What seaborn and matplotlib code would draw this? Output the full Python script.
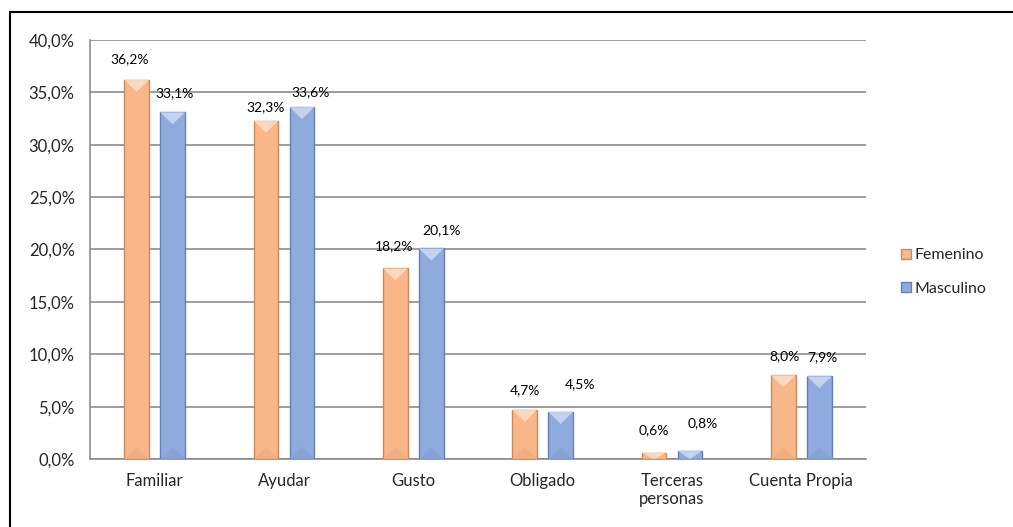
import pandas as pd
import matplotlib
matplotlib.use('Agg')
import matplotlib.pyplot as plt
import matplotlib.ticker as mticker
from matplotlib.patches import Patch, Polygon, Rectangle
import seaborn as sns

# Chart data
motivos = ['Familiar', 'Ayudar', 'Gusto', 'Obligado', 'Terceras\npersonas', 'Cuenta Propia']
femenino = [36.2, 32.3, 18.2, 4.7, 0.6, 8.0]
masculino = [33.1, 33.6, 20.1, 4.5, 0.8, 7.9]
sexos = ['Femenino', 'Masculino']

df = pd.DataFrame({
    'Motivo': motivos * 2,
    'Porcentaje': femenino + masculino,
    'Sexo': ['Femenino'] * len(motivos) + ['Masculino'] * len(motivos),
})

# Styles
fill = {'Femenino': '#F9B689', 'Masculino': '#8FAADC'}
edge = {'Femenino': '#C98A5C', 'Masculino': '#6580B4'}
light = {'Femenino': '#FDDDC2', 'Masculino': '#C8D7F3'}
dark = {'Femenino': '#E9A171', 'Masculino': '#7D98CC'}
# label offsets in points (dx, dy) from bar top centre, per hue
label_off = {
    'Femenino': [(-5, 15), (0, 10), (-1, 16), (0, 14), (0, 16), (1, 14)],
    'Masculino': [(1, 14), (6, 11), (7, 13), (14, 20), (9, 20), (2, 14)],
}

sns.set_style('white')
plt.rcParams['font.family'] = ['Lato', 'DejaVu Sans']

fig = plt.figure(figsize=(10.13, 5.27), dpi=100)
ax = fig.add_axes([90 / 1013, 1 - 459 / 527, 776 / 1013, 419 / 527])

sns.barplot(data=df, x='Motivo', y='Porcentaje', hue='Sexo', hue_order=sexos,
            palette=fill, width=0.557, gap=0.31, legend=False, ax=ax,
            saturation=1, zorder=3)

for sexo, cont in zip(sexos, ax.containers):
    for i, bar in enumerate(cont):
        bar.set_edgecolor(edge[sexo])
        bar.set_linewidth(1.0)
        x0, w, h = bar.get_x(), bar.get_width(), bar.get_height()
        d = min(1.15, h)
        # bevel: lighter top chevron, darker bottom chevron
        ax.add_patch(Polygon([(x0, h), (x0 + w, h), (x0 + w / 2, h - d)],
                             closed=True, facecolor=light[sexo], edgecolor='none',
                             alpha=0.9, zorder=4))
        if h > 2.5:
            ax.add_patch(Polygon([(x0, 0), (x0 + w, 0), (x0 + w / 2, d)],
                                 closed=True, facecolor=dark[sexo], edgecolor='none',
                                 alpha=0.35, zorder=4))
        dx, dy = label_off[sexo][i]
        txt = f'{h:.1f}%'.replace('.', ',')
        ax.annotate(txt, (x0 + w / 2, h), xytext=(dx, dy), textcoords='offset points',
                    ha='center', va='center', fontsize=10, color='#000000', zorder=5)

ax.set_xlim(-0.5, len(motivos) - 0.5)
ax.set_ylim(0, 40)
ax.yaxis.set_major_locator(mticker.MultipleLocator(5))
ax.yaxis.set_major_formatter(mticker.FuncFormatter(lambda v, p: f'{v:.1f}%'.replace('.', ',')))
ax.set_xlabel('')
ax.set_ylabel('')

ax.grid(axis='y', color='#8C8C8C', linewidth=1.2)
ax.set_axisbelow(True)
for s in ['top', 'right']:
    ax.spines[s].set_visible(False)
for s in ['left', 'bottom']:
    ax.spines[s].set_color('#8C8C8C')
    ax.spines[s].set_linewidth(1.2)

ax.tick_params(axis='y', length=4, width=1.2, color='#8C8C8C', pad=7, labelsize=12)
ax.tick_params(axis='x', which='major', length=0, pad=10, labelsize=12)
ax.set_xticks([i - 0.5 for i in range(len(motivos) + 1)], minor=True)
ax.tick_params(axis='x', which='minor', length=5, width=1.2, color='#8C8C8C')

handles = [Patch(facecolor=fill[s], edgecolor=edge[s], label=s) for s in sexos]
fig.legend(handles=handles, loc='center left', bbox_to_anchor=(895 / 1013, 1 - 272 / 527),
           frameon=False, fontsize=11.5, handlelength=0.6, handleheight=0.6,
           handletextpad=0.25, labelspacing=1.2, borderaxespad=0)

# outer chart border
fig.patches.append(Rectangle((10 / 1013, -0.1), 1.2, 1 - 12 / 527 + 0.1,
                             transform=fig.transFigure, fill=False,
                             edgecolor='black', linewidth=1.5, clip_on=False))

plt.savefig('out.png', dpi=100)
